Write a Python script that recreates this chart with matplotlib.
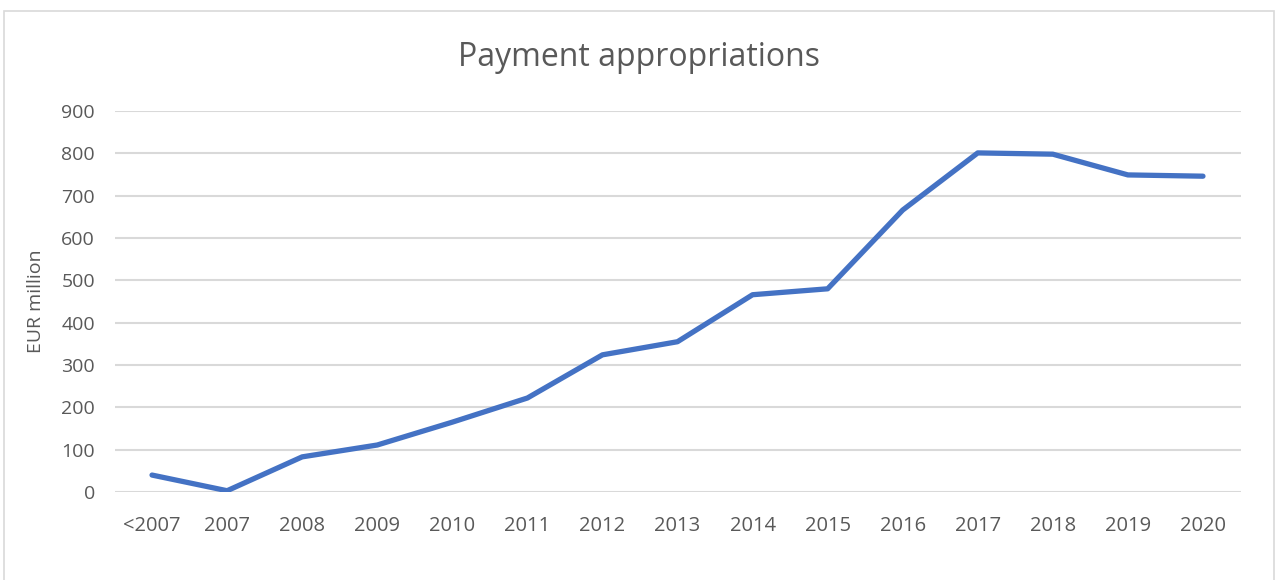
import matplotlib
matplotlib.use("Agg")
import matplotlib.pyplot as plt
from matplotlib.patches import Rectangle

years = ["<2007", "2007", "2008", "2009", "2010", "2011", "2012", "2013",
         "2014", "2015", "2016", "2017", "2018", "2019", "2020"]
payments = [40, 3, 83, 111, 165, 222, 324, 355, 466, 480, 666, 801, 798, 749, 746]
yticks = [0, 100, 200, 300, 400, 500, 600, 700, 800, 900]

plt.rcParams['font.family'] = ['Open Sans', 'DejaVu Sans']
grey = '#595959'

fig = plt.figure(figsize=(12.77, 5.80), dpi=100)
fig.patches.append(Rectangle((4/1277, -0.05), 1270/1277, 1.05 - 11/580,
                             transform=fig.transFigure, fill=False,
                             edgecolor='#d9d9d9', linewidth=1.2))
ax = fig.add_axes([114.5/1277, 88/580, 1126/1277, 381/580])

x = list(range(len(years)))
ax.plot(x, payments, color='#4472C4', linewidth=3.8,
        solid_capstyle='round', solid_joinstyle='round', zorder=3)

ax.set_xlim(-0.5, len(years) - 0.5)
ax.set_ylim(0, 900)
ax.set_xticks(x)
ax.set_xticklabels(years)
ax.set_yticks(yticks)
ax.grid(axis='y', color='#d9d9d9', linewidth=1.5)
ax.set_axisbelow(True)
for s in ax.spines.values():
    s.set_visible(False)
ax.tick_params(axis='y', length=0, labelsize=14, colors=grey, pad=14)
ax.tick_params(axis='x', length=0, labelsize=14.5, colors=grey, pad=17)
ax.set_ylabel("EUR million", fontsize=14, color=grey, labelpad=12)

fig.text(0.5, 1 - 57/580, "Payment appropriations", ha='center', va='center',
         fontsize=23, color=grey)

fig.savefig("out.png", dpi=100)
